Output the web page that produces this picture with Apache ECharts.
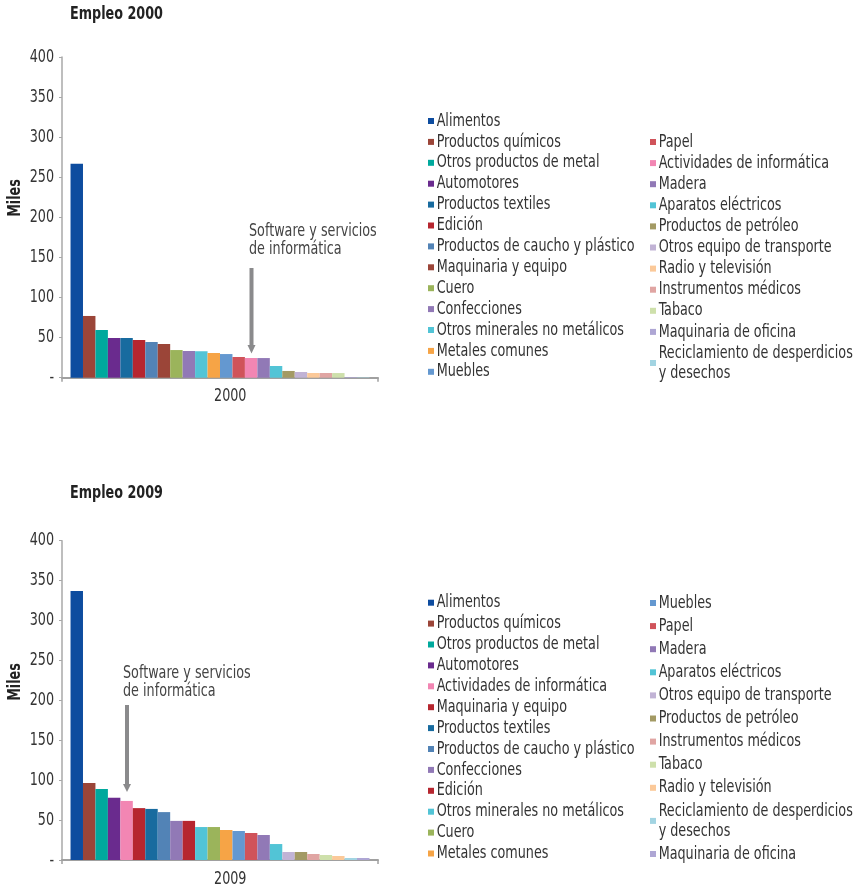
<!DOCTYPE html>
<html><head><meta charset="utf-8">
<script src="https://cdn.jsdelivr.net/npm/echarts@6/dist/echarts.min.js"></script>
<style>html,body{margin:0;padding:0;background:#fff}#c{width:857px;height:891px}</style>
</head><body><div id="c"></div>
<script>
// ---------- data ----------
const yTickLabels = ['-', '50', '100', '150', '200', '250', '300', '350', '400'];
const yearCats = ['2000', '2009'];
const titles = ['Empleo 2000', 'Empleo 2009'];
const annotationText = 'Software y servicios\nde informática';

const cats2000 = ['Alimentos','Productos químicos','Otros productos de metal','Automotores','Productos textiles','Edición','Productos de caucho y plástico','Maquinaria y equipo','Cuero','Confecciones','Otros minerales no metálicos','Metales comunes','Muebles','Papel','Actividades de informática','Madera','Aparatos eléctricos','Productos de petróleo','Otros equipo de transporte','Radio y televisión','Instrumentos médicos','Tabaco','Maquinaria de oficina','Reciclamiento de desperdicios y desechos'];
const vals2000 = [267, 77, 59.5, 49.5, 49.5, 47, 44.5, 42, 34.5, 33.3, 33, 30.8, 29.5, 25.8, 24.6, 24.5, 14.6, 8.4, 7.1, 5.9, 5.9, 5.8, 0.8, 0.5];

const cats2009 = ['Alimentos','Productos químicos','Otros productos de metal','Automotores','Actividades de informática','Maquinaria y equipo','Productos textiles','Productos de caucho y plástico','Confecciones','Edición','Otros minerales no metálicos','Cuero','Metales comunes','Muebles','Papel','Madera','Aparatos eléctricos','Otros equipo de transporte','Productos de petróleo','Instrumentos médicos','Tabaco','Radio y televisión','Reciclamiento de desperdicios y desechos','Maquinaria de oficina'];
const vals2009 = [337, 96.5, 89, 78, 74, 65, 64, 60, 49, 49, 41.3, 41.3, 37.6, 36.3, 33.8, 31.3, 20, 10, 10, 7.5, 6.3, 5, 2.5, 2.5];

// ---------- styles ----------
const baseColors = {
  'Alimentos':'#0D4C9F','Productos químicos':'#9B4538','Otros productos de metal':'#00A99D','Automotores':'#6A2B8E',
  'Productos textiles':'#186B9F','Edición':'#B6262F','Productos de caucho y plástico':'#5283B6','Maquinaria y equipo':'#9B4538',
  'Cuero':'#9BB45B','Confecciones':'#9179B6','Otros minerales no metálicos':'#52C4D6','Metales comunes':'#F6A446',
  'Muebles':'#6498D0','Papel':'#D0535A','Actividades de informática':'#F286B3','Madera':'#9179B6',
  'Aparatos eléctricos':'#52C4D6','Productos de petróleo':'#A39A64','Otros equipo de transporte':'#C1B3D5',
  'Radio y televisión':'#FBC999','Instrumentos médicos':'#E0A5A3','Tabaco':'#CEE0AB','Maquinaria de oficina':'#AEA6D4',
  'Reciclamiento de desperdicios y desechos':'#A2D4E2'
};
const colors2009Override = {'Maquinaria y equipo':'#B6262F'};
function colorOf(name, chart){ return (chart===1 && colors2009Override[name]) || baseColors[name]; }

const FONT = '"DejaVu Sans Condensed", "DejaVu Sans", sans-serif';
const TXT = '#333';

// horizontal condensing factor so the available font matches the narrow face of the original
const SCALE_X = (function(){
  const ctx = document.createElement('canvas').getContext('2d');
  ctx.font = '18px ' + FONT;
  const w = ctx.measureText('Productos de caucho y plástico').width;
  return Math.min(1, 198 / w);
})();

const grids = [
  {left: 62, top: 57, width: 316, height: 320.7},
  {left: 62, top: 540.7, width: 316, height: 319.3}
];

function xAxis(i){
  return {type:'category', gridIndex:i, data:[yearCats[i]],
    axisLine:{show:true, lineStyle:{color:'#A0A0A0', width:2}},
    axisTick:{show:true, length:4, lineStyle:{color:'#A0A0A0', width:1.5}},
    axisLabel:{color:TXT, fontSize:18, fontFamily:FONT, margin:10, padding:[0,0,0,26]},
    splitLine:{show:false}};
}
function yAxis(i){
  return {type:'value', gridIndex:i, min:0, max:400, interval:50,
    axisLine:{show:true, lineStyle:{color:'#A8A8A8', width:1.5}},
    axisTick:{show:true, length:3, lineStyle:{color:'#A8A8A8'}},
    axisLabel:{color:TXT, fontSize:18, fontFamily:FONT, margin:8, formatter:v => yTickLabels[Math.round(v/50)]},
    splitLine:{show:false}};
}
function seriesFor(cats, vals, i){
  return cats.map((n, k) => ({
    type:'bar', name:n, xAxisIndex:i, yAxisIndex:i, data:[vals[k]],
    barGap:'0%', barCategoryGap:'5.4%', itemStyle:{color:colorOf(n, i)},
    emphasis:{disabled:true}, animation:false
  }));
}
function legendFor(names, i, left, top, gap){
  return {orient:'vertical', left:left, top:top, itemWidth:6, itemHeight:6, icon:'rect',
    itemGap:gap, padding:0, selectedMode:false,
    data:names.map(n => ({name:n, itemStyle:{color:colorOf(n, i)}})),
    formatter:n => n.replace('desperdicios y desechos','desperdicios\ny desechos'),
    textStyle:{color:TXT, fontSize:18, fontFamily:FONT, lineHeight:20, padding:[0,0,0,-3]}};
}

const chart = echarts.init(document.getElementById('c'), null, {renderer:'canvas'});
chart.setOption({
  backgroundColor:'#fff',
  animation:false,
  tooltip:{show:false},
  title:[
    {text:titles[0], left:70, top:5, padding:0, textStyle:{fontSize:18, fontWeight:'bold', color:'#222', fontFamily:FONT}},
    {text:titles[1], left:70, top:484, padding:0, textStyle:{fontSize:18, fontWeight:'bold', color:'#222', fontFamily:FONT}}
  ],
  grid: grids,
  xAxis:[xAxis(0), xAxis(1)],
  yAxis:[yAxis(0), yAxis(1)],
  legend:[
    legendFor(cats2000.slice(0,13), 0, 428, 111, 0.9),
    legendFor(cats2000.slice(13), 0, 650, 132, 1.1),
    legendFor(cats2009.slice(0,13), 1, 428, 592.7, 0.9),
    legendFor(cats2009.slice(13), 1, 650, 593, 3.1)
  ],
  series:[...seriesFor(cats2000, vals2000, 0), ...seriesFor(cats2009, vals2009, 1)],
  graphic:[
    {type:'text', x:15, y:198, rotation:Math.PI/2, style:{text:'Miles', align:'center', verticalAlign:'middle', fontSize:18, fontWeight:'bold', fontFamily:FONT, fill:'#222'}},
    {type:'text', x:15, y:682, rotation:Math.PI/2, style:{text:'Miles', align:'center', verticalAlign:'middle', fontSize:18, fontWeight:'bold', fontFamily:FONT, fill:'#222'}},
    {type:'text', x:249, y:221.7, style:{text:annotationText, fontSize:18, lineHeight:18.3, fontFamily:FONT, fill:'#444', verticalAlign:'top'}},
    {type:'text', x:123, y:663.7, style:{text:annotationText, fontSize:18, lineHeight:18.3, fontFamily:FONT, fill:'#444', verticalAlign:'top'}},
    {type:'polygon', shape:{points:[[249.5,268],[253.5,268],[253.5,345],[255.5,345],[251.5,353.5],[247.5,345],[249.5,345]]}, style:{fill:'#8A8A8C'}},
    {type:'polygon', shape:{points:[[125,705],[129,705],[129,784],[131,784],[127,792],[123,784],[125,784]]}, style:{fill:'#8A8A8C'}}
  ]
});

// condense every text element horizontally about its own anchor
(function condense(){
  const zr = chart.getZr();
  zr.storage.getRoots().forEach(root => {
    const visit = el => {
      if (el.type === 'text' && el.style) {
        el.originX = el.style.x || 0;
        el.originY = el.style.y || 0;
        el.scaleX = SCALE_X;
        el.markRedraw && el.markRedraw();
      }
    };
    visit(root);
    root.traverse && root.traverse(visit);
  });
  zr.refreshImmediately();
})();
</script>
</body></html>
